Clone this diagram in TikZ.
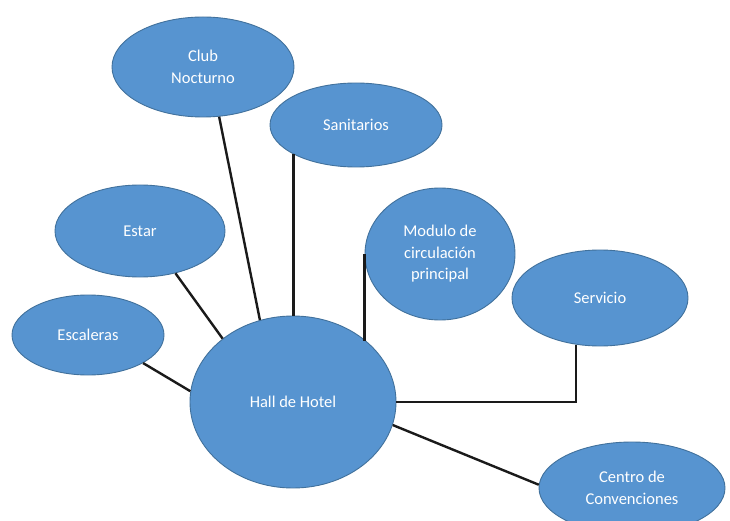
\documentclass[tikz,border=0pt]{standalone}
\usepackage{fontspec}
\setmainfont{Carlito}
\usetikzlibrary{shapes.geometric}
\definecolor{bubblefill}{HTML}{5794D0}
\definecolor{bubbleedge}{HTML}{41719C}
\definecolor{linkcol}{HTML}{1A1A1A}
\tikzset{
  bubble/.style={ellipse, draw=bubbleedge, line width=0.9pt, fill=bubblefill,
    text=white, inner sep=0pt, align=center,
    font=\fontsize{16.5}{21.5}\selectfont},
  link/.style={draw=linkcol, line width=2.4pt}
}
\begin{document}
\begin{tikzpicture}[x=1pt,y=-1pt]
  \useasboundingbox[fill=white] (0,0) rectangle (730,521);

  % ellipses
  \node[bubble, minimum width=182pt, minimum height=100pt] (club)  at (203,67)  {Club\\Nocturno};
  \node[bubble, minimum width=172pt, minimum height=84pt]  (sanit) at (356,125) {Sanitarios};
  \node[bubble, minimum width=170pt, minimum height=92pt]  (estar) at (140,231) {Estar};
  \node[bubble, minimum width=150pt, minimum height=132pt] (mod)   at (440,254) {Modulo de\\circulación\\principal};
  \node[bubble, minimum width=176pt, minimum height=96pt]  (serv)  at (600,298) {Servicio};
  \node[bubble, minimum width=152pt, minimum height=80pt]  (esc)   at (88,335)  {Escaleras};
  \node[bubble, minimum width=206pt, minimum height=172pt] (hall)  at (293,402) {Hall de Hotel};
  \node[bubble, minimum width=186pt, minimum height=92pt]  (conv)  at (632,488) {Centro de\\Convenciones};

  % connectors to the hall
  \draw[link] (club.-72) -- (hall.112);
  \draw[link] (sanit.-155) -- (sanit.-155 |- hall.north);
  \draw[link] (estar.-50) -- (hall.138);
  \draw[link] (mod.west) -- (mod.west |- hall.40.5);
  \draw[link] (serv.-117.5) |- (hall.east);
  \draw[link] (esc.-27) -- (hall.174);
  \draw[link] (hall.-13) -- (conv.178);
\end{tikzpicture}
\end{document}
